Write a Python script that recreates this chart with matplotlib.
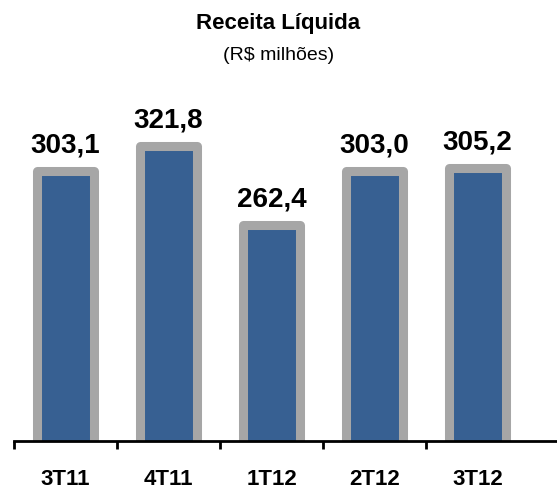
import numpy as np
import matplotlib.pyplot as plt

plt.rcParams['font.family'] = ['Liberation Sans', 'DejaVu Sans']

# data
categories = ["3T11", "4T11", "1T12", "2T12", "3T12"]
values = [303.1, 321.8, 262.4, 303.0, 305.2]
value_labels = ["303,1", "321,8", "262,4", "303,0", "305,2"]

W, H = 557, 493
fig = plt.figure(figsize=(W / 100, H / 100), dpi=100)

# axes placed in pixel terms of the reference
ax_left, ax_right = 14, 557
ax_bottom, ax_top = 441, 80
ax = fig.add_axes([ax_left / W, 1 - ax_bottom / H,
                   (ax_right - ax_left) / W, (ax_bottom - ax_top) / H])

x = np.arange(len(categories))
ax.bar(x, values, width=0.56, bottom=0, color="#376092",
       edgecolor="#a6a6a6", linewidth=6.5, joinstyle="round", zorder=2)

ymin = 99.6
ax.set_ylim(ymin, ymin + (ax_bottom - ax_top) / 1.327)
ax.set_xlim(-0.5, -0.5 + (ax_right - ax_left) / 103.0)

for xi, v, lab in zip(x, values, value_labels):
    ax.annotate(lab, (xi, v), xytext=(0, 9), textcoords="offset points",
                ha="center", va="bottom", fontsize=20, fontweight="bold")

# axis styling
for s in ["left", "right", "top"]:
    ax.spines[s].set_visible(False)
ax.spines["bottom"].set_linewidth(2)
ax.set_yticks([])
ax.set_xticks(x)
ax.set_xticklabels(categories, fontsize=16, fontweight="bold")
ax.tick_params(axis="x", which="major", length=0, pad=20)
ax.set_xticks(np.arange(-0.5, 4, 1.0), minor=True)
ax.tick_params(axis="x", which="minor", length=6, width=2, direction="out")

fig.text(0.5, 1 - 24 / H, "Receita Líquida", ha="center", va="center",
         fontsize=16, fontweight="bold")
fig.text(0.5, 1 - 55 / H, "(R$ milhões)", ha="center", va="center",
         fontsize=14)

fig.savefig("out.png", dpi=100)
